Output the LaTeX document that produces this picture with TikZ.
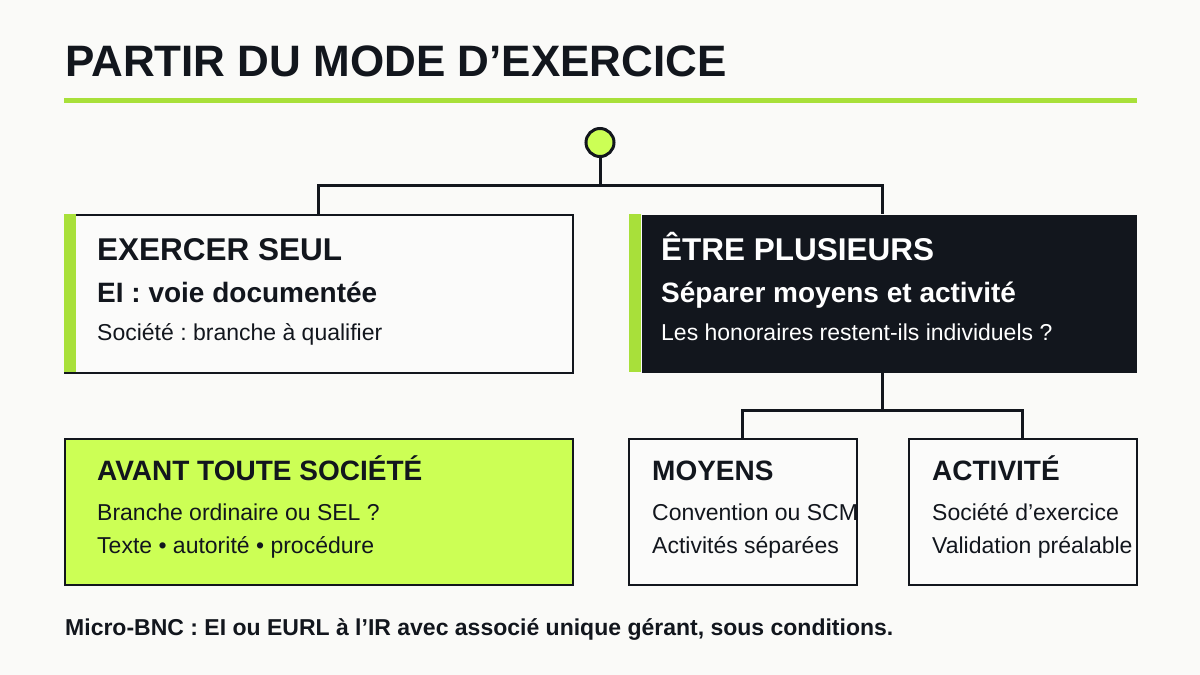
\documentclass[tikz,border=0pt]{standalone}
\usepackage{fontspec}
\setmainfont{Liberation Sans}
\frenchspacing
\definecolor{bg}{HTML}{FAFAF8}
\definecolor{ink}{HTML}{12161D}
\definecolor{lime}{HTML}{CCFF55}
\definecolor{accent}{HTML}{A8E03A}
\definecolor{paper}{HTML}{FBFBFA}
\begin{document}
\begin{tikzpicture}[x=1pt,y=-1pt,
  box/.style={draw=ink, line width=1.8pt, anchor=north west, inner sep=0pt},
  conn/.style={draw=ink, line width=3pt},
  txt/.style={anchor=base west, inner sep=0pt, text=ink},
  h1/.style={txt, font=\fontsize{31.5}{36}\selectfont\bfseries},
  h2/.style={txt, font=\fontsize{28}{32}\selectfont\bfseries},
  h3/.style={txt, font=\fontsize{28}{32}\selectfont\bfseries},
  body/.style={txt, font=\fontsize{23}{26}\selectfont}
]
\useasboundingbox[fill=bg] (0,0) rectangle (1200,675);
% title
\node[txt, font=\fontsize{44}{50}\selectfont\bfseries] (title) at (65,76) {PARTIR DU MODE D’EXERCICE};
\fill[accent] (64,98) rectangle (1137,103);
% boxes
\node[box, fill=paper, minimum width=508, minimum height=158] (seul) at (64,214) {};
\fill[accent] (64,214) rectangle (76,372);
\node[box, draw=none, fill=ink, minimum width=495, minimum height=158] (plus) at (641,214) {};
\fill[accent] (629,214) rectangle (641,372);
\coordinate (plusN) at (882,214);
\coordinate (plusS) at (882,372);
\node[box, fill=lime, minimum width=508, minimum height=146] (avant) at (64,438) {};
\node[box, fill=paper, minimum width=228, minimum height=146] (moy) at (628,438) {};
\node[box, fill=paper, minimum width=228, minimum height=146] (act) at (908,438) {};
% connectors
\node[circle, draw=ink, line width=3pt, fill=lime, minimum size=28, inner sep=0pt] (root) at (600,142.5) {};
\coordinate (j1) at (600,185);
\draw[conn] (root.south) -- (j1);
\draw[conn] (seul.north) |- (j1) -| (plusN);
\coordinate (j2) at (882,410);
\draw[conn] (plusS) -- (j2);
\draw[conn] (moy.north) |- (j2) -| (act.north);
% texts left
\node[h1] (t1) at (97,260) {EXERCER SEUL};
\node[h2] (t2) at (97,302) {EI : voie documentée};
\node[body] (t3) at (97,340) {Société : branche à qualifier};
% texts right
\node[h1, text=white] (t4) at (661,260) {ÊTRE PLUSIEURS};
\node[h2, text=white] (t5) at (661,302) {Séparer moyens et activité};
\node[body, text=white] (t6) at (661,340) {Les honoraires restent-ils individuels ?};
% bottom
\node[h3] (t7) at (97,480) {AVANT TOUTE SOCIÉTÉ};
\node[body] (t8) at (97,520) {Branche ordinaire ou SEL ?};
\node[body] (t9) at (97,553) {Texte • autorité • procédure};
\node[h3] (t10) at (652,480) {MOYENS};
\node[body] (t11) at (652,520) {Convention ou SCM};
\node[body] (t12) at (652,553) {Activités séparées};
\node[h3] (t13) at (932,480) {ACTIVITÉ};
\node[body] (t14) at (932,520) {Société d’exercice};
\node[body] (t15) at (932,553) {Validation préalable};
% footer
\node[txt, font=\fontsize{23}{26}\selectfont\bfseries] (foot) at (65,635) {Micro-BNC : EI ou EURL à l’IR avec associé unique gérant, sous conditions.};
\end{tikzpicture}
\end{document}
